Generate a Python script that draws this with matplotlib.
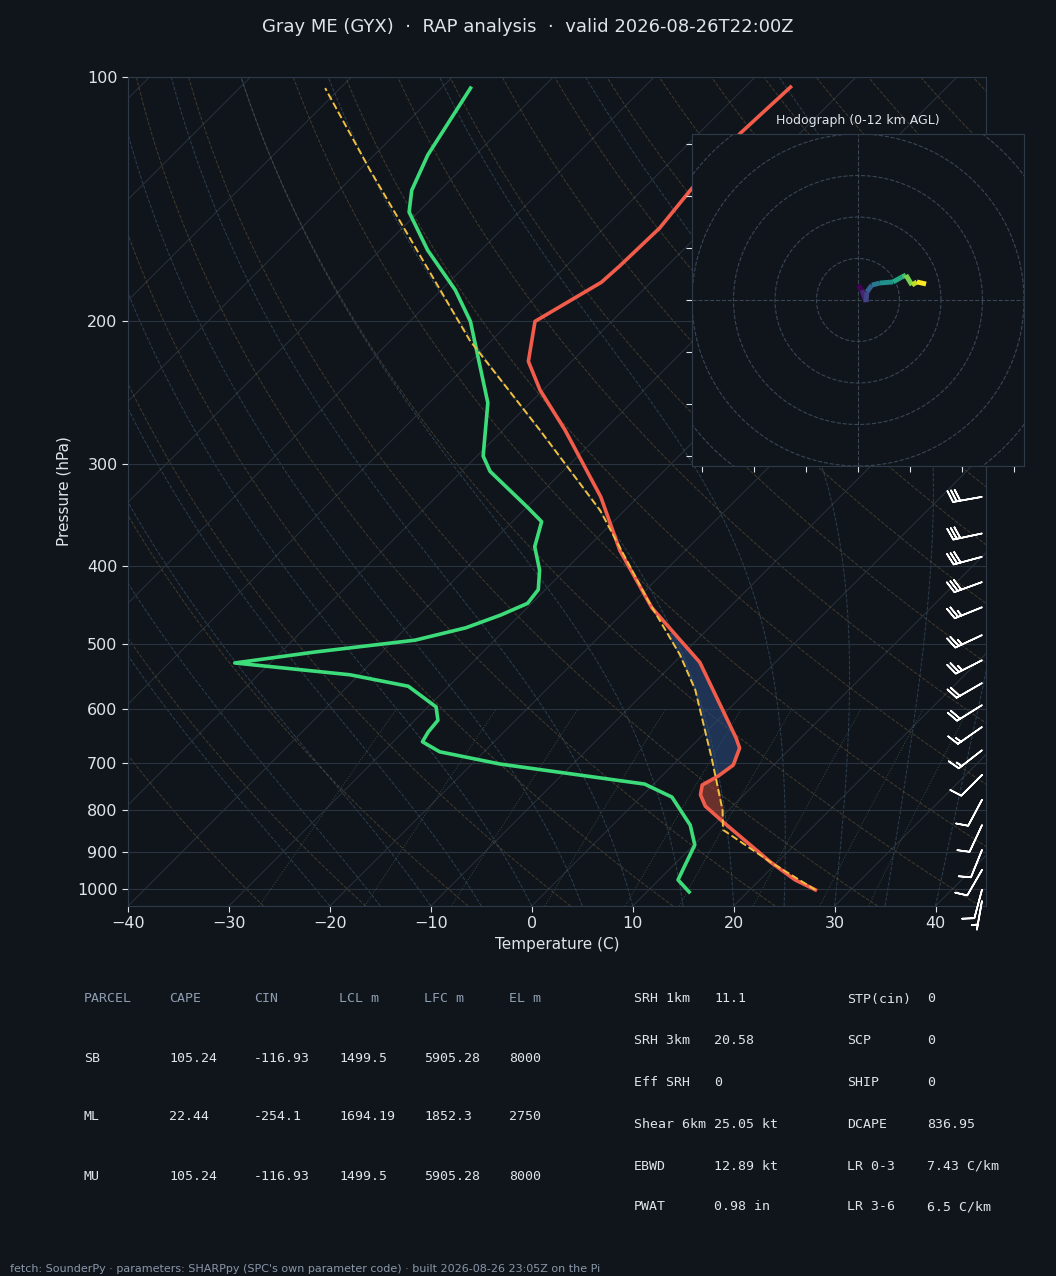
import numpy as np
import matplotlib
matplotlib.use("Agg")
import matplotlib.pyplot as plt
from matplotlib.collections import LineCollection

# ---------------- data ----------------
temp_p = [1003, 975, 927, 827, 791, 766, 745, 726, 704, 671, 652, 526, 451, 383, 329, 272, 243, 224, 200, 179, 171, 153.5, 137.9, 117.3, 102.9]
temp_t = [26.5, 23.5, 19.3, 10.6, 7.3, 5.7, 4.9, 5.6, 6.0, 4.95, 3.6, -7.5, -17.6, -26.5, -33.7, -43.9, -50.3, -54.3, -57.6, -54.9, -54.7, -54.5, -55.2, -55.9, -55.5]
dew_p = [1009, 975, 883, 835, 771, 743, 702, 678, 659, 641, 620, 597, 563, 545, 527, 511, 494, 477, 460, 445, 428, 405, 379, 353, 339, 306, 293, 252, 200, 183, 163.4, 146.7, 137.9, 124.8, 103.2]
dew_t = [14.2, 11.9, 10.1, 7.7, 3.1, -0.9, -17.2, -24.4, -27.1, -27.5, -27.7, -29.2, -34.0, -40.9, -53.5, -46.7, -37.9, -34.1, -31.9, -30.4, -30.7, -32.5, -35.3, -37.1, -39.9, -47.2, -49.4, -54.2, -64.0, -68.6, -75.3, -80.9, -82.8, -84.7, -87.1]
parcel_p = [1003, 927, 846, 800, 694, 569, 515, 441, 342, 272, 211, 154.4, 130.3, 103.2]
parcel_t = [26.5, 19.3, 11.4, 9.4, 3.4, -5.2, -10.2, -18.8, -32.4, -46.4, -62.2, -79.5, -88.9, -101.5]

barb_p = [329, 365, 390, 419, 450, 487, 523, 558, 594, 632, 675, 724, 777, 835, 896, 948, 1003, 1035]
barb_spd = [31, 30, 30, 28, 27, 26, 25, 22, 20, 17, 15, 12, 12, 10, 10, 8, 8, 6]
barb_ang = [10, 12, 15, 20, 22, 25, 27, 30, 32, 35, 38, 45, 62, 65, 68, 60, 75, 80]

hodo_u = [0.0, 1.9, 3.9, 4.3, 6.7, 10.6, 16.9, 21.2, 23.1, 26.0, 28.4, 32.8]
hodo_v = [7.2, 4.8, -1.0, 3.9, 7.2, 8.2, 8.7, 11.1, 12.0, 7.2, 8.7, 7.7]

parcel_rows = [["SB", "105.24", "-116.93", "1499.5", "5905.28", "8000"],
               ["ML", "22.44", "-254.1", "1694.19", "1852.3", "2750"],
               ["MU", "105.24", "-116.93", "1499.5", "5905.28", "8000"]]
parcel_cols = ["PARCEL", "CAPE", "CIN", "LCL m", "LFC m", "EL m"]
idx_left = [("SRH 1km", "11.1"), ("SRH 3km", "20.58"), ("Eff SRH", "0"),
            ("Shear 6km", "25.05 kt"), ("EBWD", "12.89 kt"), ("PWAT", "0.98 in")]
idx_right = [("STP(cin)", "0"), ("SCP", "0"), ("SHIP", "0"),
             ("DCAPE", "836.95"), ("LR 0-3", "7.43 C/km"), ("LR 3-6", "6.5 C/km")]

BG = "#10151c"
FG = "#dfe3ea"
SP = "#2e3a48"

PBOT, PTOP = 1050.0, 100.0
K = 34.93  # skew (deg C per ln-pressure unit), gives 45 degree isotherms


def sk(t, p):
    return np.asarray(t, float) + K * np.log(PBOT / np.asarray(p, float))


fig = plt.figure(figsize=(10.56, 12.76), dpi=100, facecolor=BG)
ax = fig.add_axes([128 / 1056, 1 - 906 / 1276, 858 / 1056, 829 / 1276], facecolor=BG)
ax.set_yscale("log")
ax.set_ylim(PBOT, PTOP)
ax.set_xlim(-40, 45)

pp = np.geomspace(PBOT, PTOP, 200)
# isotherms
for t0 in range(-130, 50, 10):
    ax.plot(sk(np.full_like(pp, t0), pp), pp, color="#3a4450", lw=0.7, alpha=0.6, zorder=1)
# dry adiabats
for th in range(-30, 220, 10):
    tt = (th + 273.15) * (pp / 1000.0) ** 0.2857 - 273.15
    ax.plot(sk(tt, pp), pp, color="#6b5a3a", lw=0.7, ls="--", alpha=0.55, zorder=1)


# moist adiabats
def moist(t0):
    ps = np.geomspace(1050, 100, 300)
    T = t0 + 273.15
    out = [T]
    for i in range(1, len(ps)):
        p = ps[i - 1]
        es = 6.112 * np.exp(17.67 * (T - 273.15) / (T - 29.65))
        rs = 0.622 * es / (p - es)
        Lv, Rd, cp = 2.5e6, 287.0, 1005.0
        dTdp = (Rd * T + Lv * rs) / p / (cp + (Lv * Lv * rs * 0.622) / (Rd * T * T))
        T = T + dTdp * (ps[i] - p)
        out.append(T)
    return ps, np.array(out) - 273.15


for t0 in range(-20, 45, 5):
    ps, tt = moist(t0)
    ax.plot(sk(tt, ps), ps, color="#3f5a70", lw=0.7, ls="--", alpha=0.6, zorder=1)
# mixing ratio lines
pm = np.geomspace(1050, 600, 50)
for w in [0.4, 1, 2, 4, 7, 10, 16, 24, 32]:
    e = w * pm / (622 + w)
    le = np.log(e / 6.112)
    td = 243.5 * le / (17.67 - le)
    ax.plot(sk(td, pm), pm, color="#4d6a5a", lw=0.7, ls=":", alpha=0.6, zorder=1)

# horizontal grid
for p in range(100, 1001, 100):
    ax.axhline(p, color="#2a3440", lw=0.8, zorder=1)

# fills
pg = np.geomspace(830, 485, 200)
lt = np.log(temp_p[::-1]); lpp = np.log(parcel_p[::-1])
Tg = np.interp(np.log(pg), lt, temp_t[::-1])
Pg = np.interp(np.log(pg), lpp, parcel_t[::-1])
ax.fill_betweenx(pg, sk(Tg, pg), sk(Pg, pg), where=Pg > Tg, color="#b5473a", alpha=0.55, interpolate=True, zorder=2)
ax.fill_betweenx(pg, sk(Tg, pg), sk(Pg, pg), where=Pg <= Tg, color="#2a4a7a", alpha=0.6, interpolate=True, zorder=2)

ax.plot(sk(temp_t, temp_p), temp_p, color="#f25c4b", lw=2.6, zorder=4)
ax.plot(sk(dew_t, dew_p), dew_p, color="#3ddc7a", lw=2.6, zorder=4)
ax.plot(sk(parcel_t, parcel_p), parcel_p, color="#f0c040", lw=1.4, ls="--", zorder=5)

# barbs
ang = np.radians(barb_ang)
bu = -np.array(barb_spd) * np.cos(ang) * -1
bv = np.array(barb_spd) * np.sin(ang)
ax.barbs(np.full(len(barb_p), 44.6), barb_p, bu, bv, color="white", length=6.5,
         linewidth=1.2, clip_on=False, zorder=6)

ax.set_yticks(range(100, 1001, 100))
ax.set_yticklabels([str(v) for v in range(100, 1001, 100)])
ax.yaxis.set_minor_locator(matplotlib.ticker.NullLocator())
ax.set_xticks(range(-40, 41, 10))
ax.tick_params(colors=FG, labelsize=11.5, length=4)
for s in ax.spines.values():
    s.set_color(SP)
ax.set_xlabel("Temperature (C)", color=FG, fontsize=11)
ax.set_ylabel("Pressure (hPa)", color=FG, fontsize=11)

fig.text(0.5, 1 - 27 / 1276, "Gray ME (GYX)  ·  RAP analysis  ·  valid 2026-08-26T22:00Z",
         ha="center", va="center", color=FG, fontsize=13)

# hodograph
hx = fig.add_axes([692 / 1056, 1 - 466 / 1276, 332 / 1056, 332 / 1276], facecolor=BG)
hx.set_xlim(-80, 80); hx.set_ylim(-80, 80)
th = np.linspace(0, 2 * np.pi, 200)
for r in [20, 40, 60, 80, 100]:
    hx.plot(r * np.cos(th), r * np.sin(th), color="#3a4654", lw=0.8, ls="--")
hx.axhline(0, color="#3a4654", lw=0.8, ls="--")
hx.axvline(0, color="#3a4654", lw=0.8, ls="--")
pts = np.column_stack([hodo_u, hodo_v])
segs = np.stack([pts[:-1], pts[1:]], axis=1)
lc = LineCollection(segs, cmap="viridis", linewidths=3.5)
lc.set_array(np.arange(len(segs)))
hx.add_collection(lc)
hx.set_xticks(range(-75, 80, 25)); hx.set_yticks(range(-75, 80, 25))
hx.set_xticklabels([]); hx.set_yticklabels([])
hx.tick_params(colors=FG, length=4)
for s in hx.spines.values():
    s.set_color(SP)
hx.set_title("Hodograph (0-12 km AGL)", color=FG, fontsize=9, pad=7)

# tables
mono = "DejaVu Sans Mono"
cx = [84, 169, 254, 339, 424, 509]
for x, h in zip(cx, parcel_cols):
    fig.text(x / 1056, 1 - 999 / 1276, h, color="#8d9db0", fontsize=9.5, family=mono, va="center")
for ry, row in zip([1058, 1117, 1176], parcel_rows):
    for x, v in zip(cx, row):
        fig.text(x / 1056, 1 - ry / 1276, v, color=FG, fontsize=9.5, family=mono, va="center")
rows_y = [999, 1041, 1083, 1124, 1166, 1207]
for ry, (a, b), (c, d) in zip(rows_y, idx_left, idx_right):
    fig.text(634 / 1056, 1 - ry / 1276, a, color=FG, fontsize=9.5, family=mono, va="center")
    fig.text(714 / 1056, 1 - ry / 1276, b, color=FG, fontsize=9.5, family=mono, va="center")
    fig.text(847 / 1056, 1 - ry / 1276, c, color=FG, fontsize=9.5, family=mono, va="center")
    fig.text(927 / 1056, 1 - ry / 1276, d, color=FG, fontsize=9.5, family=mono, va="center")

fig.text(10 / 1056, 1 - 1269 / 1276,
         "fetch: SounderPy · parameters: SHARPpy (SPC's own parameter code) · built 2026-08-26 23:05Z on the Pi",
         color="#8a97a8", fontsize=8, va="center")

fig.savefig("out.png", dpi=100, facecolor=BG)
